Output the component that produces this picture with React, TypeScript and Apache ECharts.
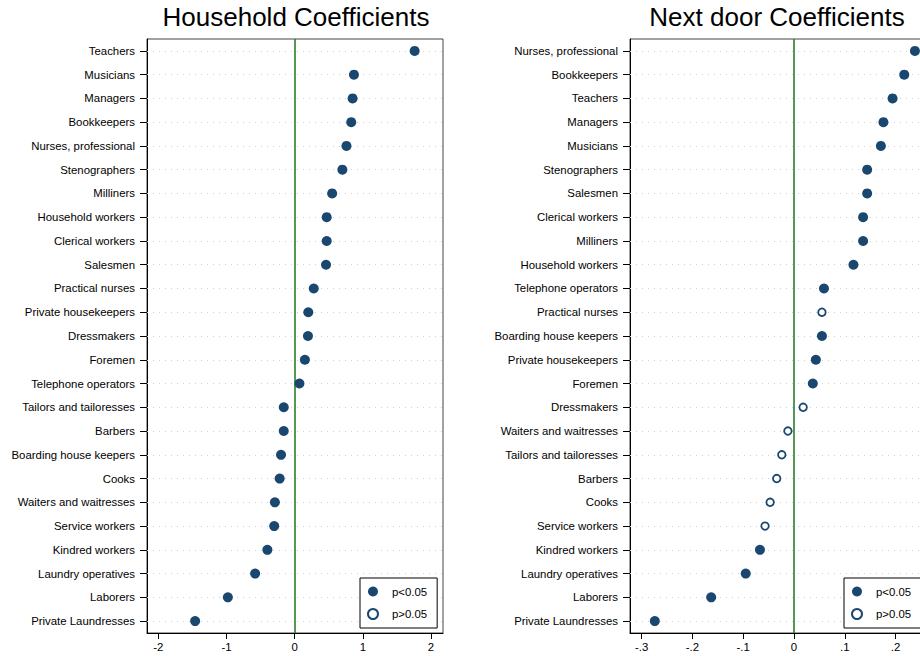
import React, { useEffect, useRef } from "react";
import * as echarts from "echarts";

const householdCats = [
  "Teachers", "Musicians", "Managers", "Bookkeepers", "Nurses, professional",
  "Stenographers", "Milliners", "Household workers", "Clerical workers", "Salesmen",
  "Practical nurses", "Private housekeepers", "Dressmakers", "Foremen", "Telephone operators",
  "Tailors and tailoresses", "Barbers", "Boarding house keepers", "Cooks", "Waiters and waitresses",
  "Service workers", "Kindred workers", "Laundry operatives", "Laborers", "Private Laundresses",
];
const householdVals = [
  1.76, 0.87, 0.85, 0.83, 0.76, 0.70, 0.55, 0.47, 0.47, 0.46, 0.28, 0.20, 0.195,
  0.15, 0.07, -0.16, -0.16, -0.20, -0.22, -0.29, -0.30, -0.40, -0.58, -0.98, -1.46,
];
const householdSig = [
  true, true, true, true, true, true, true, true, true, true, true, true, true,
  true, true, true, true, true, true, true, true, true, true, true, true,
];

const nextdoorCats = [
  "Nurses, professional", "Bookkeepers", "Teachers", "Managers", "Musicians",
  "Stenographers", "Salesmen", "Clerical workers", "Milliners", "Household workers",
  "Telephone operators", "Practical nurses", "Boarding house keepers", "Private housekeepers", "Foremen",
  "Dressmakers", "Waiters and waitresses", "Tailors and tailoresses", "Barbers", "Cooks",
  "Service workers", "Kindred workers", "Laundry operatives", "Laborers", "Private Laundresses",
];
const nextdoorVals = [
  0.238, 0.217, 0.194, 0.176, 0.171, 0.144, 0.144, 0.136, 0.136, 0.117, 0.059, 0.055, 0.055,
  0.043, 0.037, 0.018, -0.012, -0.024, -0.034, -0.047, -0.057, -0.067, -0.095, -0.163, -0.274,
];
const nextdoorSig = [
  true, true, true, true, true, true, true, true, true, true, true, false, true,
  true, true, false, false, false, false, false, false, true, true, true, true,
];

const householdTicks = [-2, -1, 0, 1, 2];
const householdTickLabels = ["-2", "-1", "0", "1", "2"];
const nextdoorTicks = [-0.3, -0.2, -0.1, 0, 0.1, 0.2];
const nextdoorTickLabels = ["-.3", "-.2", "-.1", "0", ".1", ".2"];

const titles = ["Household Coefficients", "Next door Coefficients"];
const legendNames = ["p<0.05", "p>0.05"];

const NAVY = "#1a476f";
const GREEN = "#2a7f2a";
const FONT = "'Liberation Sans', Arial, sans-serif";

function labelFor(ticks: number[], labels: string[]) {
  return (v: number) => {
    const i = ticks.findIndex((t) => Math.abs(t - v) < 1e-9);
    return i >= 0 ? labels[i] : "";
  };
}

export default function App() {
  const ref = useRef<HTMLDivElement>(null);

  useEffect(() => {
    if (!ref.current) return;
    const chart = echarts.init(ref.current, undefined, { renderer: "svg" });

    const panels = [
      {
        cats: householdCats, vals: householdVals, sig: householdSig,
        ticks: householdTicks, tickLabels: householdTickLabels,
        grid: { left: 147, top: 39, width: 296, height: 594 },
        min: -2.166, max: 2.176, titleX: 296, legendX: 360,
      },
      {
        cats: nextdoorCats, vals: nextdoorVals, sig: nextdoorSig,
        ticks: nextdoorTicks, tickLabels: nextdoorTickLabels,
        grid: { left: 630, top: 39, width: 296, height: 594 },
        min: -0.3228, max: 0.2598, titleX: 777, legendX: 844,
      },
    ];

    const series: any[] = [];
    panels.forEach((p, k) => {
      series.push({
        type: "scatter",
        name: "grid" + k,
        xAxisIndex: k,
        yAxisIndex: k,
        data: [],
        silent: true,
        markLine: {
          silent: true,
          z: 1,
          symbol: "none",
          label: { show: false },
          lineStyle: { color: "#cfcfcf", type: [1, 5], width: 1 },
          data: p.cats.map((_, i) => ({ yAxis: i })),
        },
      });
      series.push({
        type: "scatter",
        name: "zero" + k,
        xAxisIndex: k,
        yAxisIndex: k,
        data: [],
        silent: true,
        markLine: {
          silent: true,
          z: 2,
          symbol: "none",
          label: { show: false },
          lineStyle: { color: GREEN, type: "solid", width: 1.6 },
          data: [{ xAxis: 0 }],
        },
      });
      series.push({
        type: "scatter",
        name: legendNames[0],
        xAxisIndex: k,
        yAxisIndex: k,
        z: 4,
        symbol: "circle",
        symbolSize: 10,
        itemStyle: { color: NAVY, opacity: 1 },
        data: p.cats.map((c, i) => (p.sig[i] ? [p.vals[i], c] : null)).filter((d) => d),
      });
      series.push({
        type: "scatter",
        name: legendNames[1],
        xAxisIndex: k,
        yAxisIndex: k,
        z: 4,
        symbol: "circle",
        symbolSize: 7.5,
        itemStyle: { color: "#ffffff", borderColor: NAVY, borderWidth: 1.8, opacity: 1 },
        data: p.cats.map((c, i) => (!p.sig[i] ? [p.vals[i], c] : null)).filter((d) => d),
      });
    });

    const option: any = {
      animation: false,
      backgroundColor: "#ffffff",
      textStyle: { fontFamily: FONT },
      title: panels.map((p, k) => ({
        text: titles[k],
        left: p.titleX,
        top: 4,
        padding: 0,
        textAlign: "center",
        textStyle: { fontFamily: FONT, fontSize: 26, fontWeight: "normal", color: "#000" },
      })),
      legend: panels.map((p) => ({
        data: legendNames,
        orient: "vertical",
        left: p.legendX,
        top: 578,
        padding: [8, 10, 8, 7],
        itemGap: 11,
        itemWidth: 10,
        itemHeight: 10,
        icon: "circle",
        borderColor: "#000",
        borderWidth: 1,
        backgroundColor: "#fff",
        selectedMode: false,
        textStyle: { fontFamily: FONT, fontSize: 11.4, color: "#000", padding: [0, 0, 0, 9] },
      })),
      grid: panels.map((p) => ({
        ...p.grid,
        show: true,
        borderColor: "#444",
        borderWidth: 1,
        backgroundColor: "transparent",
      })),
      xAxis: panels.map((p, k) => ({
        type: "value",
        gridIndex: k,
        min: p.min,
        max: p.max,
        splitLine: { show: false },
        axisLine: { show: true, onZero: false, lineStyle: { color: "#000", width: 1 } },
        axisTick: { show: true, length: 6, customValues: p.ticks, lineStyle: { color: "#000" } },
        axisLabel: {
          customValues: p.ticks,
          formatter: labelFor(p.ticks, p.tickLabels),
          fontFamily: FONT,
          fontSize: 11.4,
          color: "#000",
          margin: 8,
        },
      })),
      yAxis: panels.map((p, k) => ({
        type: "category",
        gridIndex: k,
        data: p.cats,
        inverse: true,
        boundaryGap: true,
        splitLine: { show: false },
        axisLine: { show: true, onZero: false, lineStyle: { color: "#000", width: 1 } },
        axisTick: { show: true, length: 7, alignWithLabel: true, lineStyle: { color: "#000" } },
        axisLabel: {
          fontFamily: FONT,
          fontSize: 11.4,
          color: "#000",
          margin: 12,
          interval: 0,
        },
      })),
      series,
    };

    chart.setOption(option);
    return () => chart.dispose();
  }, []);

  return (
    <div
      style={{
        position: "absolute",
        left: 0,
        top: 0,
        width: 920,
        height: 656,
        overflow: "hidden",
        background: "#fff",
      }}
    >
      <div ref={ref} style={{ width: 932, height: 656 }} />
    </div>
  );
}
